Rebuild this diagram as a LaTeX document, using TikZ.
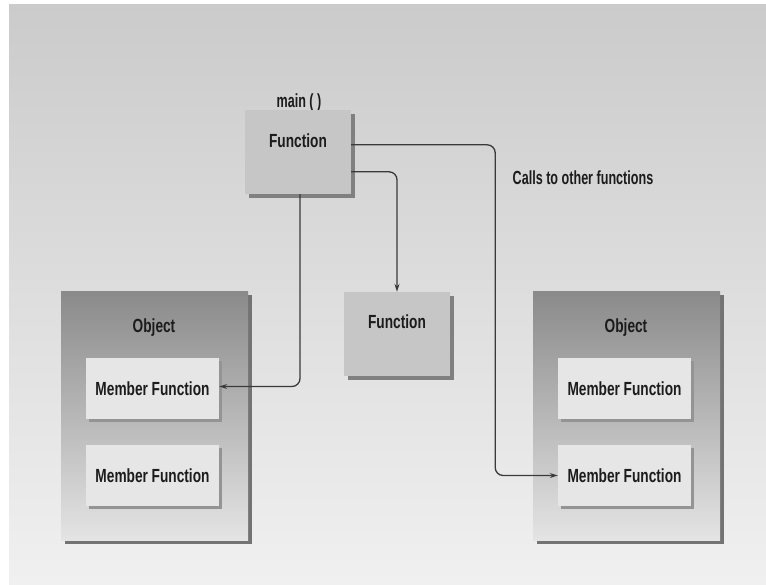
\documentclass[tikz,border=0pt]{standalone}
\usepackage{fontspec}
\setmainfont{Liberation Sans}[FakeStretch=0.72]
\usetikzlibrary{arrows.meta,shadows,calc}
\definecolor{bgtop}{HTML}{CBCBCB}
\definecolor{bgbot}{HTML}{F0F0F0}
\definecolor{funcfill}{HTML}{C6C6C6}
\definecolor{mffill}{HTML}{E6E6E6}
\definecolor{objtop}{HTML}{8A8A8A}
\definecolor{objbot}{HTML}{E4E4E4}
\definecolor{inkc}{HTML}{1C1C1C}
\definecolor{linec}{HTML}{3A3A3A}
\begin{document}
\begin{tikzpicture}[x=1pt,y=-1pt,
  txt/.style={font=\bfseries\fontsize{19}{21}\selectfont, text=inkc, inner sep=0pt},
  smalltxt/.style={txt, xscale=0.92},
  funcbox/.style={draw=none, fill=funcfill, minimum width=106pt, minimum height=84pt,
    inner sep=0pt, drop shadow={shadow xshift=4pt, shadow yshift=-4pt, fill=black!50, opacity=1}},
  objbox/.style={draw=none, top color=objtop, bottom color=objbot, minimum width=187pt, minimum height=249pt,
    inner sep=0pt, drop shadow={shadow xshift=4pt, shadow yshift=-4pt, fill=black!55, opacity=1}},
  mfbox/.style={draw=none, fill=mffill, minimum width=133pt, minimum height=61pt,
    inner sep=0pt, font=\bfseries\fontsize{19}{21}\selectfont, text=inkc,
    drop shadow={shadow xshift=3pt, shadow yshift=-3pt, fill=black!42, opacity=1}},
  conn/.style={draw=linec, line width=1.3pt, rounded corners=8pt, -{Stealth[length=8pt,width=5pt]}}
]
\useasboundingbox (0,0) rectangle (766,584);
\fill[white] (0,0) rectangle (766,584);
\shade[top color=bgtop, bottom color=bgbot] (9,4) rectangle (766,584);

% top function
\node[smalltxt] (mainlbl) at (299,103) {main ( )};
\node[funcbox] (f1) at (298,152) {};
\node[txt] (f1t) at (298,141) {Function};

% middle function
\node[funcbox] (f2) at (397,334) {};
\node[txt] (f2t) at (397,322) {Function};

% left object
\node[objbox] (o1) at (154.5,415.5) {};
\node[txt] (o1t) at (154,328) {Object};
\node[mfbox] (mf1l) at (152.5,388.5) {Member Function};
\node[mfbox] (mf2l) at (152.5,475.5) {Member Function};

% right object
\node[objbox] (o2) at (626.5,415.5) {};
\node[txt] (o2t) at (626,328) {Object};
\node[mfbox] (mf1r) at (624.5,388.5) {Member Function};
\node[mfbox] (mf2r) at (624.5,475.5) {Member Function};

% caption
\node[smalltxt] (calls) at (583,178) {Calls to other functions};

% connectors
\draw[conn] ([yshift=-35pt]f1.north east) -- ++(144,0) |- (mf2r.west);
\draw[conn] ([yshift=-62pt]f1.north east) -| (f2.north);
\draw[conn] ([xshift=2pt]f1.south) |- ([yshift=2pt]mf1l.east);
\end{tikzpicture}
\end{document}
